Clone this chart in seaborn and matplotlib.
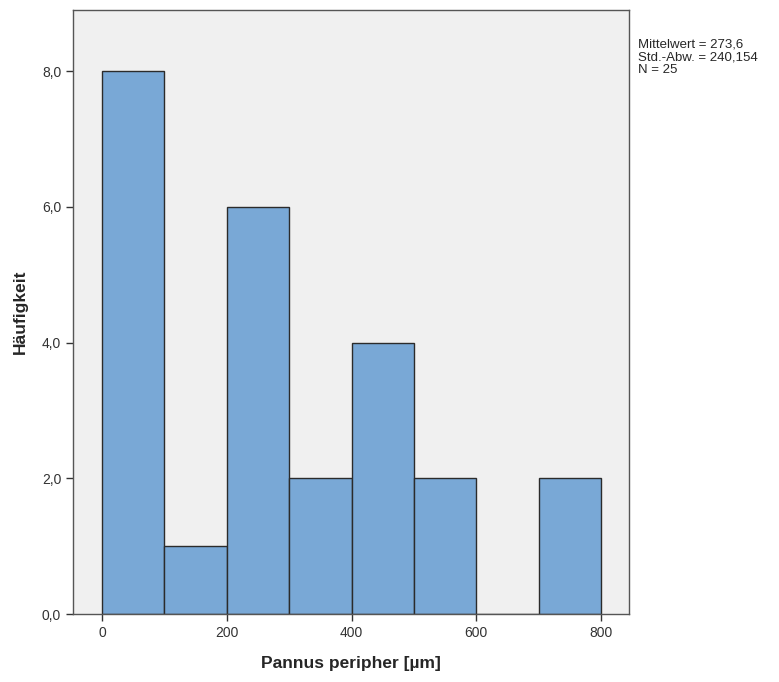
import numpy as np
import pandas as pd
import matplotlib
matplotlib.use('Agg')
import matplotlib.pyplot as plt
import seaborn as sns

# histogram bins
bin_edges = [0, 100, 200, 300, 400, 500, 600, 700, 800]
bin_mids = [50, 150, 250, 350, 450, 550, 650, 750]
counts = [8, 1, 6, 2, 4, 2, 0, 2]
y_ticks = [0, 2, 4, 6, 8]
y_labels = ['0,0', '2,0', '4,0', '6,0', '8,0']
x_ticks = [0, 200, 400, 600, 800]
stats_text = 'Mittelwert = 273,6\nStd.-Abw. = 240,154\nN = 25'

sns.set_style('ticks')
plt.rcParams['font.family'] = ['Liberation Sans', 'DejaVu Sans']

df = pd.DataFrame({'wert': bin_mids, 'anzahl': counts})

fig = plt.figure(figsize=(7.79, 6.82), dpi=100)
ax = fig.add_axes([0.0937, 0.0997, 0.7137, 0.8856])
ax.set_facecolor('#f0f0f0')

sns.histplot(data=df, x='wert', weights='anzahl', bins=bin_edges, ax=ax,
             color='#79a8d6', alpha=1, edgecolor='#2b2b2b', linewidth=1.0)

ax.set_xlim(-46.5, 844.6)
ax.set_ylim(0, 8.9)
ax.set_xticks(x_ticks)
ax.set_yticks(y_ticks)
ax.set_yticklabels(y_labels)
ax.tick_params(labelsize=10, colors='#333333', length=5, width=1)
for s in ax.spines.values():
    s.set_color('#555555')
    s.set_linewidth(1)

ax.set_xlabel('Pannus peripher [µm]', fontsize=12.5, fontweight='bold', labelpad=12)
ax.set_ylabel('Häufigkeit', fontsize=12.5, fontweight='bold', labelpad=10)

fig.text(0.819, 0.943, stats_text, fontsize=9.5, va='top', ha='left', linespacing=1.05)

fig.savefig('out.png', dpi=100)
